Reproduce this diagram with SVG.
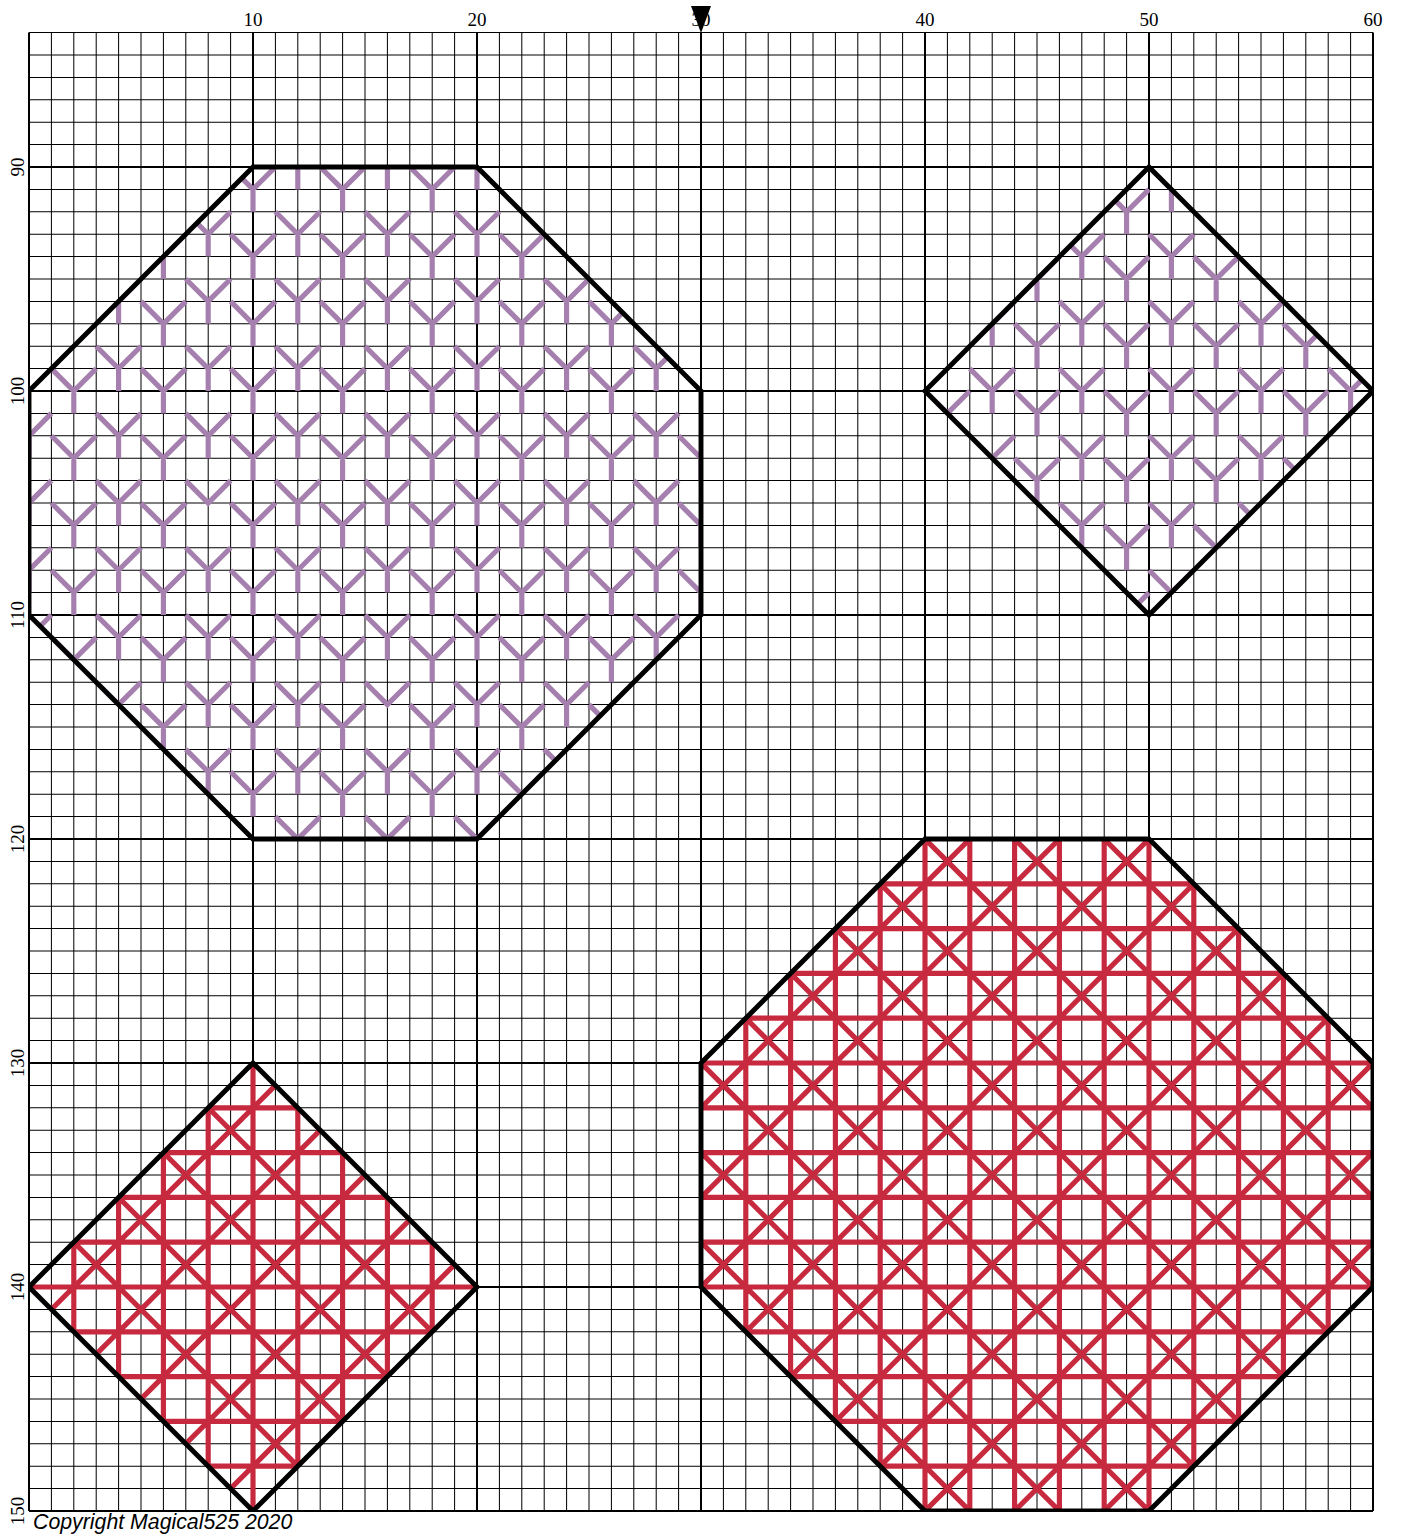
<svg xmlns="http://www.w3.org/2000/svg" width="1403" height="1537" viewBox="0 0 1403 1537">
<style>
.thin{fill:none;stroke:#000;stroke-width:0.045}
.major{fill:none;stroke:#000;stroke-width:0.09}
.ys{fill:none;stroke:#a57fad;stroke-width:0.23;stroke-linecap:butt;stroke-linejoin:miter}
.xs{fill:none;stroke:#c72a3e;stroke-width:0.23;stroke-linecap:butt}
.outline{fill:none;stroke:#000;stroke-width:0.22;stroke-linejoin:miter}
.num{font-family:"Liberation Serif","DejaVu Serif",serif;font-size:19px;fill:#000;text-anchor:middle}
.copy{font-family:"Liberation Sans",Arial,sans-serif;font-style:italic;font-size:21.3px;fill:#000}
</style>
<defs>
<clipPath id="cpGrid"><rect x="0" y="84" width="60" height="66"/></clipPath>
<clipPath id="cpO1"><polygon points="10,90 20,90 30,100 30,110 20,120 10,120 0,110 0,100"/></clipPath>
<clipPath id="cpD1"><polygon points="50,90 60,100 50,110 40,100"/></clipPath>
<clipPath id="cpD2"><polygon points="10,130 20,140 10,150 0,140"/></clipPath>
<clipPath id="cpO2"><polygon points="40,120 50,120 60,130 60,140 50,150 40,150 30,140 30,130"/></clipPath>
</defs>
<rect width="1403" height="1537" fill="#fff"/>
<g id="chart" transform="translate(29 -1849) scale(22.4)">
<g id="grid">
<path class="thin" d="M1 84v66m1-66v66m1-66v66m1-66v66m1-66v66m1-66v66m1-66v66m1-66v66m1-66v66m2-66v66m1-66v66m1-66v66m1-66v66m1-66v66m1-66v66m1-66v66m1-66v66m1-66v66m2-66v66m1-66v66m1-66v66m1-66v66m1-66v66m1-66v66m1-66v66m1-66v66m1-66v66m2-66v66m1-66v66m1-66v66m1-66v66m1-66v66m1-66v66m1-66v66m1-66v66m1-66v66m2-66v66m1-66v66m1-66v66m1-66v66m1-66v66m1-66v66m1-66v66m1-66v66m1-66v66m2-66v66m1-66v66m1-66v66m1-66v66m1-66v66m1-66v66m1-66v66m1-66v66m1-66v66"/>
<path class="thin" d="M0 84h60m-60 1h60m-60 1h60m-60 1h60m-60 1h60m-60 1h60m-60 2h60m-60 1h60m-60 1h60m-60 1h60m-60 1h60m-60 1h60m-60 1h60m-60 1h60m-60 1h60m-60 2h60m-60 1h60m-60 1h60m-60 1h60m-60 1h60m-60 1h60m-60 1h60m-60 1h60m-60 1h60m-60 2h60m-60 1h60m-60 1h60m-60 1h60m-60 1h60m-60 1h60m-60 1h60m-60 1h60m-60 1h60m-60 2h60m-60 1h60m-60 1h60m-60 1h60m-60 1h60m-60 1h60m-60 1h60m-60 1h60m-60 1h60m-60 2h60m-60 1h60m-60 1h60m-60 1h60m-60 1h60m-60 1h60m-60 1h60m-60 1h60m-60 1h60m-60 2h60m-60 1h60m-60 1h60m-60 1h60m-60 1h60m-60 1h60m-60 1h60m-60 1h60m-60 1h60"/>
<path class="major" d="M0 84V150M10 84V150M20 84V150M30 84V150M40 84V150M50 84V150M60 84V150M0 90H60M0 100H60M0 110H60M0 120H60M0 130H60M0 140H60M0 150H60"/>
</g>
<g id="octagon-top-left-stitches" clip-path="url(#cpO1)">
<path class="ys" d="M11 89l1 1 1-1m-1 1v1M15 89l1 1 1-1m-1 1v1M19 89l1 1 1-1m-1 1v1
M9 90l1 1 1-1m-1 1v1M13 90l1 1 1-1m-1 1v1M17 90l1 1 1-1m-1 1v1
M7 92l1 1 1-1m-1 1v1M11 92l1 1 1-1m-1 1v1M15 92l1 1 1-1m-1 1v1M19 92l1 1 1-1m-1 1v1
M5 93l1 1 1-1m-1 1v1M9 93l1 1 1-1m-1 1v1M13 93l1 1 1-1m-1 1v1M17 93l1 1 1-1m-1 1v1M21 93l1 1 1-1m-1 1v1
M3 95l1 1 1-1m-1 1v1M7 95l1 1 1-1m-1 1v1M11 95l1 1 1-1m-1 1v1M15 95l1 1 1-1m-1 1v1M19 95l1 1 1-1m-1 1v1M23 95l1 1 1-1m-1 1v1
M5 96l1 1 1-1m-1 1v1M9 96l1 1 1-1m-1 1v1M13 96l1 1 1-1m-1 1v1M17 96l1 1 1-1m-1 1v1M21 96l1 1 1-1m-1 1v1M25 96l1 1 1-1m-1 1v1
M3 98l1 1 1-1m-1 1v1M7 98l1 1 1-1m-1 1v1M11 98l1 1 1-1m-1 1v1M15 98l1 1 1-1m-1 1v1M19 98l1 1 1-1m-1 1v1M23 98l1 1 1-1m-1 1v1M27 98l1 1 1-1m-1 1v1
M1 99l1 1 1-1m-1 1v1M5 99l1 1 1-1m-1 1v1M9 99l1 1 1-1m-1 1v1M13 99l1 1 1-1m-1 1v1M17 99l1 1 1-1m-1 1v1M21 99l1 1 1-1m-1 1v1M25 99l1 1 1-1m-1 1v1
M-1 101l1 1 1-1m-1 1v1M3 101l1 1 1-1m-1 1v1M7 101l1 1 1-1m-1 1v1M11 101l1 1 1-1m-1 1v1M15 101l1 1 1-1m-1 1v1M19 101l1 1 1-1m-1 1v1M23 101l1 1 1-1m-1 1v1M27 101l1 1 1-1m-1 1v1
M1 102l1 1 1-1m-1 1v1M5 102l1 1 1-1m-1 1v1M9 102l1 1 1-1m-1 1v1M13 102l1 1 1-1m-1 1v1M17 102l1 1 1-1m-1 1v1M21 102l1 1 1-1m-1 1v1M25 102l1 1 1-1m-1 1v1M29 102l1 1 1-1m-1 1v1
M-1 104l1 1 1-1m-1 1v1M3 104l1 1 1-1m-1 1v1M7 104l1 1 1-1M11 104l1 1 1-1m-1 1v1M15 104l1 1 1-1m-1 1v1M19 104l1 1 1-1m-1 1v1M23 104l1 1 1-1m-1 1v1M27 104l1 1 1-1m-1 1v1
M1 105l1 1 1-1m-1 1v1M5 105l1 1 1-1m-1 1v1M9 105l1 1 1-1m-1 1v1M13 105l1 1 1-1m-1 1v1M17 105l1 1 1-1m-1 1v1M21 105l1 1 1-1m-1 1v1M25 105l1 1 1-1m-1 1v1M29 105l1 1 1-1m-1 1v1
M-1 107l1 1 1-1m-1 1v1M3 107l1 1 1-1m-1 1v1M7 107l1 1 1-1m-1 1v1M11 107l1 1 1-1m-1 1v1M15 107l1 1 1-1m-1 1v1M19 107l1 1 1-1m-1 1v1M23 107l1 1 1-1m-1 1v1M27 107l1 1 1-1m-1 1v1
M1 108l1 1 1-1m-1 1v1M5 108l1 1 1-1m-1 1v1M9 108l1 1 1-1m-1 1v1M13 108l1 1 1-1m-1 1v1M17 108l1 1 1-1m-1 1v1M21 108l1 1 1-1m-1 1v1M25 108l1 1 1-1m-1 1v1M29 108l1 1 1-1m-1 1v1
M-1 110l1 1 1-1m-1 1v1M3 110l1 1 1-1m-1 1v1M7 110l1 1 1-1m-1 1v1M11 110l1 1 1-1m-1 1v1M15 110l1 1 1-1m-1 1v1M19 110l1 1 1-1m-1 1v1M23 110l1 1 1-1m-1 1v1M27 110l1 1 1-1m-1 1v1
M1 111l1 1 1-1m-1 1v1M5 111l1 1 1-1m-1 1v1M9 111l1 1 1-1m-1 1v1M13 111l1 1 1-1m-1 1v1M17 111l1 1 1-1m-1 1v1M21 111l1 1 1-1m-1 1v1M25 111l1 1 1-1m-1 1v1
M3 113l1 1 1-1m-1 1v1M7 113l1 1 1-1m-1 1v1M11 113l1 1 1-1m-1 1v1M15 113l1 1 1-1M19 113l1 1 1-1m-1 1v1M23 113l1 1 1-1m-1 1v1
M5 114l1 1 1-1m-1 1v1M9 114l1 1 1-1m-1 1v1M13 114l1 1 1-1m-1 1v1M17 114l1 1 1-1m-1 1v1M21 114l1 1 1-1m-1 1v1M25 114l1 1 1-1m-1 1v1
M7 116l1 1 1-1m-1 1v1M11 116l1 1 1-1m-1 1v1M15 116l1 1 1-1m-1 1v1M19 116l1 1 1-1m-1 1v1M23 116l1 1 1-1m-1 1v1
M9 117l1 1 1-1m-1 1v1M13 117l1 1 1-1m-1 1v1M17 117l1 1 1-1m-1 1v1M21 117l1 1 1-1m-1 1v1
M11 119l1 1 1-1m-1 1v1M15 119l1 1 1-1m-1 1v1M19 119l1 1 1-1m-1 1v1"/>
</g>
<g id="diamond-top-right-stitches" clip-path="url(#cpD1)">
<path class="ys" d="M48 91l1 1 1-1m-1 1v1
M44 94l1 1 1-1m-1 1v1M48 94l1 1 1-1m-1 1v1M52 94l1 1 1-1m-1 1v1
M44 97l1 1 1-1m-1 1v1M48 97l1 1 1-1m-1 1v1M52 97l1 1 1-1m-1 1v1M56 97l1 1 1-1m-1 1v1
M40 100l1 1 1-1m-1 1v1M44 100l1 1 1-1m-1 1v1M48 100l1 1 1-1m-1 1v1M52 100l1 1 1-1m-1 1v1M56 100l1 1 1-1m-1 1v1
M44 103l1 1 1-1m-1 1v1M48 103l1 1 1-1m-1 1v1M52 103l1 1 1-1m-1 1v1M56 103l1 1 1-1m-1 1v1
M48 106l1 1 1-1m-1 1v1M52 106l1 1 1-1m-1 1v1
M48 109l1 1 1-1m-1 1v1
M50 90l1 1 1-1m-1 1v1
M46 93l1 1 1-1m-1 1v1M50 93l1 1 1-1m-1 1v1
M42 96l1 1 1-1m-1 1v1M46 96l1 1 1-1m-1 1v1M50 96l1 1 1-1m-1 1v1M54 96l1 1 1-1m-1 1v1
M42 99l1 1 1-1m-1 1v1M46 99l1 1 1-1m-1 1v1M50 99l1 1 1-1m-1 1v1M54 99l1 1 1-1m-1 1v1M58 99l1 1 1-1m-1 1v1
M42 102l1 1 1-1m-1 1v1M46 102l1 1 1-1m-1 1v1M50 102l1 1 1-1m-1 1v1M54 102l1 1 1-1m-1 1v1
M46 105l1 1 1-1m-1 1v1M50 105l1 1 1-1m-1 1v1M54 105l1 1 1-1m-1 1v1
M50 108l1 1 1-1m-1 1v1"/>
</g>
<g id="diamond-bottom-left-stitches" clip-path="url(#cpD2)">
<path class="xs" d="M0 132H20M0 134H20M0 136H20M0 138H20M0 140H20M0 142H20M0 144H20M0 146H20M0 148H20
M2 130V150M4 130V150M6 130V150M8 130V150M10 130V150M12 130V150M14 130V150M16 130V150M18 130V150
M0 136L20 156M0 132L20 152M0 128L20 148M0 124L20 144
M0 142L20 122M0 146L20 126M0 150L20 130M0 154L20 134M0 158L20 138"/>
</g>
<g id="octagon-bottom-right-stitches" clip-path="url(#cpO2)">
<path class="xs" d="M30 122H60M30 124H60M30 126H60M30 128H60M30 130H60M30 132H60M30 134H60M30 136H60M30 138H60M30 140H60M30 142H60M30 144H60M30 146H60M30 148H60
M32 120V150M34 120V150M36 120V150M38 120V150M40 120V150M42 120V150M44 120V150M46 120V150M48 120V150M50 120V150M52 120V150M54 120V150M56 120V150M58 120V150
M30 138L60 168M30 134L60 164M30 130L60 160M30 126L60 156M30 122L60 152M30 118L60 148M30 114L60 144M30 110L60 140M30 106L60 136M30 102L60 132
M30 132L60 102M30 136L60 106M30 140L60 110M30 144L60 114M30 148L60 118M30 152L60 122M30 156L60 126M30 160L60 130M30 164L60 134M30 168L60 138"/>
</g>
<g id="outlines" clip-path="url(#cpGrid)">
<polygon id="octagon-top-left" class="outline" points="10,90 20,90 30,100 30,110 20,120 10,120 0,110 0,100"/>
<polygon id="diamond-top-right" class="outline" points="50,90 60,100 50,110 40,100"/>
<polygon id="diamond-bottom-left" class="outline" points="10,130 20,140 10,150 0,140"/>
<polygon id="octagon-bottom-right" class="outline" points="40,120 50,120 60,130 60,140 50,150 40,150 30,140 30,130"/>
</g>
</g>
<g id="labels-top" class="num">
<text x="253" y="26">10</text>
<text x="477" y="26">20</text>
<text x="701" y="26">30</text>
<text x="925" y="26">40</text>
<text x="1149" y="26">50</text>
<text x="1373" y="26">60</text>
</g>
<polygon id="center-marker" points="691,6 711,6 701,33" fill="#000"/>
<g id="labels-left" class="num">
<text transform="translate(24 167) rotate(-90)">90</text>
<text transform="translate(24 391) rotate(-90)">100</text>
<text transform="translate(24 615) rotate(-90)">110</text>
<text transform="translate(24 839) rotate(-90)">120</text>
<text transform="translate(24 1063) rotate(-90)">130</text>
<text transform="translate(24 1287) rotate(-90)">140</text>
<text transform="translate(24 1511) rotate(-90)">150</text>
</g>
<text class="copy" x="33" y="1529">Copyright Magical525 2020</text>
</svg>
